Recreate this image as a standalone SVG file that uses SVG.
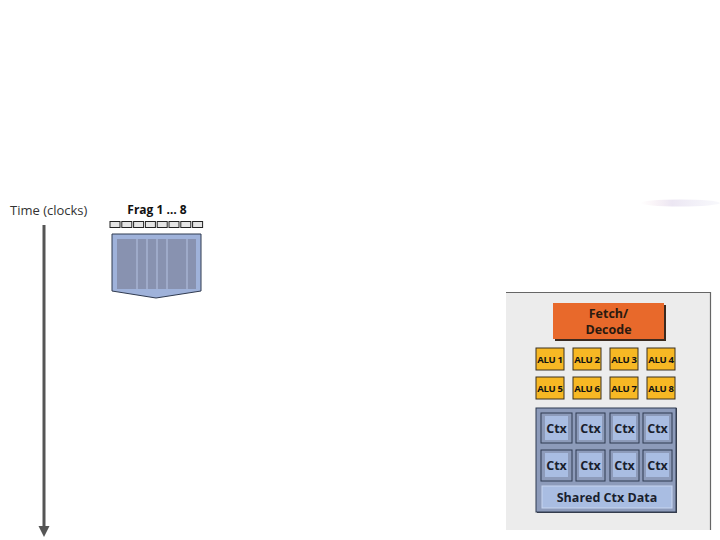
<svg xmlns="http://www.w3.org/2000/svg" width="720" height="540" viewBox="0 0 720 540">
<defs>
<style>
.lbl{font-family:"Open Sans","Liberation Sans",sans-serif;}
.alu rect{fill:#f7b824;stroke:#3a3020;stroke-width:1;}
.alu text{font-family:"Open Sans","Liberation Sans",sans-serif;font-weight:bold;font-size:9.5px;fill:#111;text-anchor:middle;letter-spacing:-0.3px;}
.ctx .c{fill:#8d9bba;stroke:#2f3a50;stroke-width:1;}
.ctx .i{fill:#a9bde2;}
.ctx text{font-family:"Open Sans","Liberation Sans",sans-serif;font-weight:bold;font-size:12.5px;fill:#1a1f2e;text-anchor:middle;}
.sq{fill:#e4e4e4;stroke:#222;stroke-width:1;}
</style>
<linearGradient id="sw" x1="0" y1="0" x2="1" y2="0">
<stop offset="0" stop-color="#e8b8c8" stop-opacity="0"/>
<stop offset="0.4" stop-color="#c8b8dc" stop-opacity="0.35"/>
<stop offset="1" stop-color="#d0d0e8" stop-opacity="0.15"/>
</linearGradient>
</defs>
<rect width="720" height="540" fill="#fff"/>
<ellipse cx="680" cy="203" rx="40" ry="3.5" fill="url(#sw)"/>

<g id="time-label">
<text class="lbl" x="10" y="215" font-size="13" fill="#333">Time (clocks)</text>
</g>
<g id="connectors">
<line x1="44" y1="225" x2="44" y2="527" stroke="#555" stroke-width="3"/>
<polygon points="38.5,526 49.5,526 44,537" fill="#555"/>
</g>

<g id="frag">
<text class="lbl" x="157" y="214" font-size="12" font-weight="bold" fill="#111" text-anchor="middle">Frag 1 … 8</text>
<rect class="sq" x="110" y="221.5" width="10" height="6"/>
<rect class="sq" x="121.8" y="221.5" width="10" height="6"/>
<rect class="sq" x="133.6" y="221.5" width="10" height="6"/>
<rect class="sq" x="145.4" y="221.5" width="10" height="6"/>
<rect class="sq" x="157.2" y="221.5" width="10" height="6"/>
<rect class="sq" x="169" y="221.5" width="10" height="6"/>
<rect class="sq" x="180.8" y="221.5" width="10" height="6"/>
<rect class="sq" x="192.6" y="221.5" width="10" height="6"/>
<path d="M112,234 L201,234 L201,291 L156,298 L112,291 Z" fill="#9fb2da" stroke="#2f3a50" stroke-width="1"/>
<rect x="117" y="239" width="79" height="50" fill="#8892b0"/>
<g stroke="#b4c2e2" stroke-width="1">
<line x1="137" y1="239" x2="137" y2="289"/>
<line x1="147" y1="239" x2="147" y2="289"/>
<line x1="157" y1="239" x2="157" y2="289"/>
<line x1="167" y1="239" x2="167" y2="289"/>
<line x1="187" y1="239" x2="187" y2="289"/>
</g>
</g>

<g id="core">
<rect x="506" y="292" width="205" height="238" fill="#ececec"/>
<polyline points="506,292.5 710.5,292.5 710.5,530" fill="none" stroke="#666" stroke-width="1.2"/>
</g>

<g id="fetch-decode">
<rect x="555" y="305" width="111" height="36" fill="#3a2a20"/>
<rect x="553" y="303" width="111" height="36" fill="#e8692b"/>
<text class="lbl" x="608.5" y="318" font-size="12.5" font-weight="bold" fill="#2a1a10" text-anchor="middle">Fetch/</text>
<text class="lbl" x="608.5" y="334" font-size="12.5" font-weight="bold" fill="#2a1a10" text-anchor="middle">Decode</text>
</g>

<g id="alu1" class="alu"><rect x="536" y="348" width="28" height="22"/><text x="550" y="362.5">ALU 1</text></g>
<g id="alu2" class="alu"><rect x="573" y="348" width="28" height="22"/><text x="587" y="362.5">ALU 2</text></g>
<g id="alu3" class="alu"><rect x="610" y="348" width="28" height="22"/><text x="624" y="362.5">ALU 3</text></g>
<g id="alu4" class="alu"><rect x="647" y="348" width="28" height="22"/><text x="661" y="362.5">ALU 4</text></g>
<g id="alu5" class="alu"><rect x="536" y="377" width="28" height="22"/><text x="550" y="391.5">ALU 5</text></g>
<g id="alu6" class="alu"><rect x="573" y="377" width="28" height="22"/><text x="587" y="391.5">ALU 6</text></g>
<g id="alu7" class="alu"><rect x="610" y="377" width="28" height="22"/><text x="624" y="391.5">ALU 7</text></g>
<g id="alu8" class="alu"><rect x="647" y="377" width="28" height="22"/><text x="661" y="391.5">ALU 8</text></g>

<g id="ctx-block" class="ctx">
<rect x="537" y="408" width="140" height="105" fill="#3a3f4a"/>
<rect x="536" y="408" width="140" height="104" fill="#8d9bba" stroke="#2f3a50" stroke-width="1"/>
<g id="ctx1"><rect class="c" x="541" y="413" width="31" height="30"/><rect class="i" x="545" y="416" width="23" height="24"/><text x="556.5" y="433">Ctx</text></g>
<g id="ctx2"><rect class="c" x="576" y="413" width="29" height="30"/><rect class="i" x="579" y="416" width="23" height="24"/><text x="590.5" y="433">Ctx</text></g>
<g id="ctx3"><rect class="c" x="610" y="413" width="29" height="30"/><rect class="i" x="613" y="416" width="23" height="24"/><text x="624.5" y="433">Ctx</text></g>
<g id="ctx4"><rect class="c" x="643" y="413" width="29" height="30"/><rect class="i" x="646" y="416" width="23" height="24"/><text x="657.5" y="433">Ctx</text></g>
<g id="ctx5"><rect class="c" x="541" y="450" width="31" height="31"/><rect class="i" x="545" y="453" width="23" height="24"/><text x="556.5" y="470">Ctx</text></g>
<g id="ctx6"><rect class="c" x="576" y="450" width="29" height="31"/><rect class="i" x="579" y="453" width="23" height="24"/><text x="590.5" y="470">Ctx</text></g>
<g id="ctx7"><rect class="c" x="610" y="450" width="29" height="31"/><rect class="i" x="613" y="453" width="23" height="24"/><text x="624.5" y="470">Ctx</text></g>
<g id="ctx8"><rect class="c" x="643" y="450" width="29" height="31"/><rect class="i" x="646" y="453" width="23" height="24"/><text x="657.5" y="470">Ctx</text></g>
<g id="shared-ctx">
<rect x="542" y="486" width="130" height="22" fill="#a9bde2" stroke="#c8d6f0" stroke-width="1"/>
<text x="607" y="502">Shared Ctx Data</text>
</g>
</g>
</svg>
